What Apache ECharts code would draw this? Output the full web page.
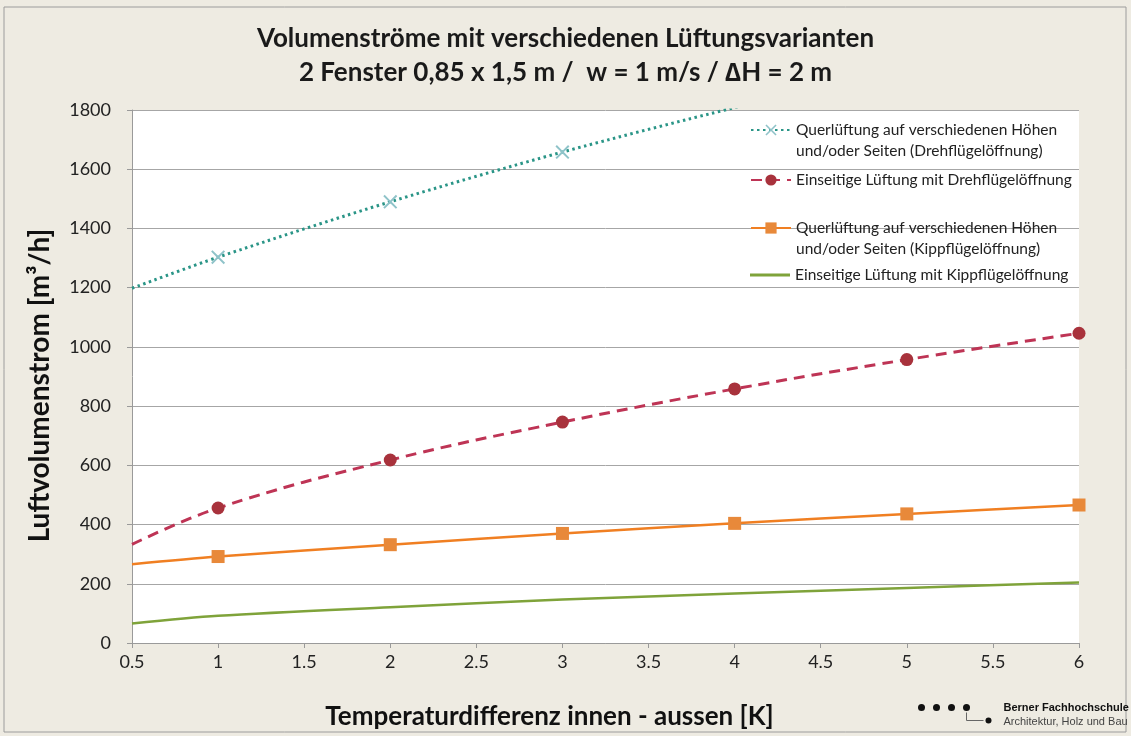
<!DOCTYPE html>
<html>
<head>
<meta charset="utf-8">
<script src="https://cdn.jsdelivr.net/npm/echarts@6/dist/echarts.min.js"></script>
<style>
  html, body { margin: 0; padding: 0; background: #eeebe2; }
  #chart { width: 1131px; height: 736px; }
</style>
</head>
<body>
<div id="chart"></div>
<script>
var temperatureDiff = [0.5, 1, 2, 3, 4, 5, 6];
var querDreh = [1198, 1303, 1490, 1658, 1808, 1945, 2075];
var einDreh = [333, 456, 618, 746, 858, 957, 1046];
var querKipp = [266, 292, 332, 370, 404, 436, 466];
var einKipp = [66, 92, 121, 147, 167, 186, 204];
var seriesNames = [
  "Querlüftung auf verschiedenen Höhen\nund/oder Seiten (Drehflügelöffnung)",
  "Einseitige Lüftung mit Drehflügelöffnung",
  "Querlüftung auf verschiedenen Höhen\nund/oder Seiten (Kippflügelöffnung)",
  "Einseitige Lüftung mit Kippflügelöffnung"
];

var font = "Lato, 'Noto Sans', sans-serif";
var crossPath = "path://M0,1L1,0L5,4L9,0L10,1L6,5L10,9L9,10L5,6L1,10L0,9L4,5Z";

// first point (0.5) has no marker in the original
function pairs(values) {
  return values.map(function (v, i) {
    var item = { value: [temperatureDiff[i], v] };
    if (i === 0) item.symbol = "none";
    return item;
  });
}

// one legend per item so the gaps can match; a blank first line keeps
// the icon level with the first text line of the two-line entries
function legendAt(name, top, twoLines, icon, iconHeight) {
  var item = { name: name };
  if (icon) item.icon = icon;
  return {
    data: [item],
    left: 750,
    top: top,
    padding: 0,
    orient: "vertical",
    itemWidth: 40,
    itemHeight: iconHeight || 14,
    selectedMode: false,
    formatter: function (n) {
      return twoLines ? "\n" + n : n;
    },
    textStyle: {
      fontFamily: font,
      fontSize: 15.5,
      color: "#222",
      lineHeight: 21,
    },
  };
}

var chart = echarts.init(document.getElementById("chart"));

var option = {
  backgroundColor: "#eeebe2",
  animation: false,
  title: {
    text: "Volumenströme mit verschiedenen Lüftungsvarianten\n2 Fenster 0,85 x 1,5 m /  w = 1 m/s / ∆H = 2 m",
    left: "center",
    top: 17,
    textStyle: {
      fontFamily: font,
      fontSize: 26,
      fontWeight: "bold",
      color: "#1a1a1a",
      lineHeight: 34,
    },
  },
  legend: [
    legendAt(seriesNames[0], 98.5, true),
    legendAt(seriesNames[1], 169.5, false),
    legendAt(seriesNames[2], 196.5, true),
    // plain line only: tiny rect icon disappears inside the line
    legendAt(seriesNames[3], 264.5, false, "rect", 3),
  ],
  grid: {
    left: 132,
    right: 52,
    top: 110,
    bottom: 93,
    show: true,
    backgroundColor: "#ffffff",
    borderWidth: 0,
  },
  xAxis: {
    type: "value",
    min: 0.5,
    max: 6,
    interval: 0.5,
    name: "Temperaturdifferenz innen - aussen [K]",
    nameLocation: "middle",
    nameGap: 61,
    nameTextStyle: {
      fontFamily: font,
      fontSize: 26,
      fontWeight: "bold",
      color: "#111",
      padding: [0, 112, 0, 0],
    },
    axisLine: { show: true, lineStyle: { color: "#9a9a9a", width: 1 } },
    axisTick: { show: true, length: 5, lineStyle: { color: "#9a9a9a" } },
    axisLabel: {
      fontFamily: font,
      fontSize: 18,
      color: "#222",
      margin: 10,
    },
    splitLine: { show: false },
  },
  yAxis: {
    type: "value",
    min: 0,
    max: 1800,
    interval: 200,
    name: "Luftvolumenstrom [m³/h]",
    nameLocation: "middle",
    nameGap: 78,
    nameTextStyle: {
      fontFamily: font,
      fontSize: 28,
      fontWeight: "bold",
      color: "#111",
      padding: [0, 18, 0, 0],
    },
    axisLine: { show: true, lineStyle: { color: "#9a9a9a", width: 1 } },
    axisTick: { show: true, length: 5, lineStyle: { color: "#9a9a9a" } },
    axisLabel: {
      fontFamily: font,
      fontSize: 18,
      color: "#222",
      margin: 21,
      formatter: function (v) {
        return String(v);
      },
    },
    splitLine: { show: true, lineStyle: { color: "#a6a6a6", width: 1 } },
  },
  series: [
    {
      name: seriesNames[0],
      type: "line",
      data: pairs(querDreh),
      smooth: 0.3,
      clip: true,
      symbol: crossPath,
      symbolSize: 14,
      itemStyle: { color: "#8fc3c9" },
      lineStyle: { color: "#2a9587", width: 3, type: [2.5, 3.5] },
      z: 4,
    },
    {
      name: seriesNames[1],
      type: "line",
      data: pairs(einDreh),
      smooth: 0.4,
      symbol: "circle",
      symbolSize: 13,
      itemStyle: { color: "#a8323c" },
      lineStyle: { color: "#be3455", width: 3, type: [11, 7] },
      z: 3,
    },
    {
      name: seriesNames[2],
      type: "line",
      data: pairs(querKipp),
      smooth: 0.3,
      symbol: "rect",
      symbolSize: 13,
      itemStyle: { color: "#e8893a" },
      lineStyle: { color: "#f07f22", width: 2.5 },
      z: 2,
    },
    {
      name: seriesNames[3],
      type: "line",
      data: pairs(einKipp),
      smooth: 0.3,
      showSymbol: false,
      symbol: "none",
      itemStyle: { color: "#7fa33a" },
      lineStyle: { color: "#7fa33a", width: 2.5 },
      z: 1,
    },
  ],
  graphic: [
    {
      type: "rect",
      shape: { x: 4, y: 7, width: 1122, height: 725 },
      style: { fill: "none", stroke: "#9c9c9c", lineWidth: 1 },
      silent: true,
    },
    {
      type: "group",
      left: 918,
      top: 702,
      children: [
        { type: "circle", shape: { cx: 4, cy: 4, r: 3.5 }, style: { fill: "#111" } },
        { type: "circle", shape: { cx: 19, cy: 4, r: 3.5 }, style: { fill: "#111" } },
        { type: "circle", shape: { cx: 34, cy: 4, r: 3.5 }, style: { fill: "#111" } },
        { type: "circle", shape: { cx: 49, cy: 4, r: 3.5 }, style: { fill: "#111" } },
        { type: "polyline", shape: { points: [[49, 9], [49, 17], [66, 17]] }, style: { stroke: "#666", lineWidth: 1, fill: "none" } },
        { type: "circle", shape: { cx: 71, cy: 17, r: 3 }, style: { fill: "#111" } },
        {
          type: "text",
          style: {
            x: 86, y: 4, text: "Berner Fachhochschule",
            fill: "#111", font: "bold 11px 'Liberation Sans', Arial, sans-serif",
            verticalAlign: "middle",
          },
        },
        {
          type: "text",
          style: {
            x: 86, y: 18, text: "Architektur, Holz und Bau",
            fill: "#444", font: "11px 'Liberation Sans', Arial, sans-serif",
            verticalAlign: "middle",
          },
        },
      ],
    },
  ],
};

chart.setOption(option);
window.addEventListener("resize", function () {
  chart.resize();
});
</script>
</body>
</html>
